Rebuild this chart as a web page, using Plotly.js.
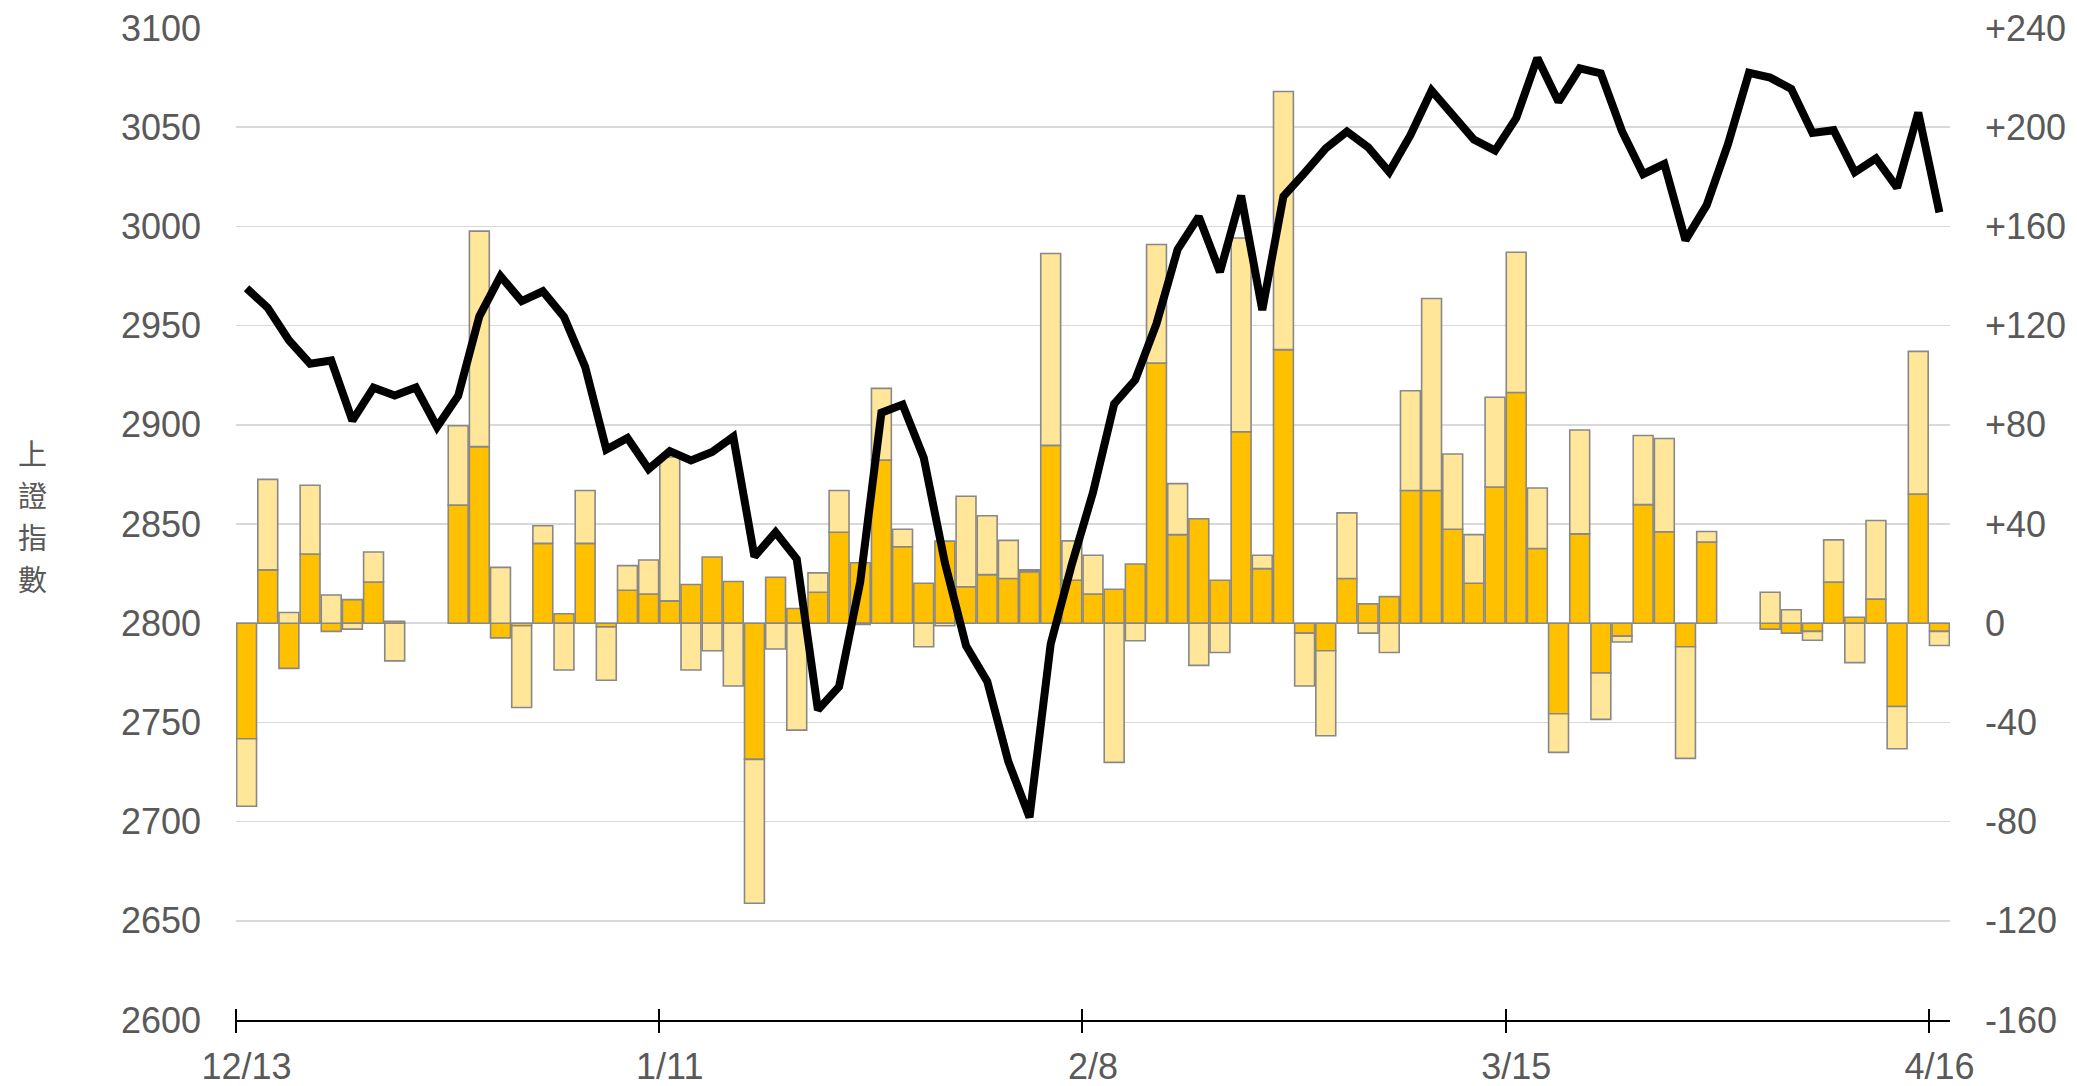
<!DOCTYPE html>
<html>
<head>
<meta charset="utf-8">
<script src="https://cdn.plot.ly/plotly-3.0.1.min.js"></script>
<style>
html,body{margin:0;padding:0;background:#fff;}
#chart{width:2077px;height:1086px;}
</style>
</head>
<body>
<div id="chart"></div>
<script>
// ---- data ----
var dates = ["12/13","12/14","12/15","12/18","12/19","12/20","12/21","12/22","12/25","12/26","12/27","12/28","12/29",
"1/2","1/3","1/4","1/5","1/8","1/9","1/10","1/11","1/12","1/15","1/16","1/17","1/18","1/19","1/22","1/23","1/24","1/25","1/26","1/29","1/30","1/31",
"2/1","2/2","2/5","2/6","2/7","2/8","2/19","2/20","2/21","2/22","2/23","2/26","2/27","2/28","2/29",
"3/1","3/4","3/5","3/6","3/7","3/8","3/11","3/12","3/13","3/14","3/15","3/18","3/19","3/20","3/21","3/22","3/25","3/26","3/27","3/28","3/29",
"4/1","4/2","4/3","4/8","4/9","4/10","4/11","4/12","4/15","4/16"];

var sseIndex = [2968.8,2959.0,2942.6,2930.8,2932.4,2902.1,2918.7,2914.8,2918.8,2898.9,2914.6,2954.7,2974.9,
2962.3,2967.3,2954.4,2929.2,2887.5,2893.3,2877.7,2886.7,2882.0,2886.3,2894.0,2833.6,2845.8,2832.3,2756.3,2768.0,2820.8,2906.1,2910.2,2883.4,2830.5,2788.6,
2770.7,2730.2,2702.2,2789.5,2829.7,2865.9,2910.5,2922.7,2951.0,2988.4,3004.9,2977.0,3015.5,2957.9,3015.2,
3027.0,3039.3,3047.8,3039.9,3027.4,3046.0,3068.5,3055.9,3043.8,3038.2,3054.6,3084.9,3062.8,3079.7,3077.1,3048.0,3026.3,3031.5,2993.1,3010.7,3041.2,
3077.4,3075.0,3069.3,3047.1,3048.5,3027.3,3034.3,3019.5,3057.4,3007.1];

var flowDark = [-46.6,21.5,-18.2,27.9,-3.3,9.5,16.6,0.8,null,null,47.6,71.2,-5.9,
-1,32.2,3.8,32.2,-1.5,13.3,11.8,9,15.6,26.7,16.8,-54.9,18.5,5.9,12.5,36.7,24.4,65.8,30.8,16.1,33.1,14.7,
19.6,18,20.8,71.7,17.3,11.8,13.7,23.9,104.9,35.7,42.1,17.3,77.2,22,110.3,
-4,-11.1,18,7.8,10.7,53.5,53.5,37.9,16.1,54.9,93,30.1,-36.5,36,-20.1,-5.2,47.8,36.9,-9.5,32.7,null,
null,-2.4,-4,-3.3,16.6,2.4,9.7,-33.6,52.1,-3.3];

var flowLight = [-27.2,36.5,4.3,27.7,11.4,-2.4,12.1,-15.2,null,null,32,86.9,22.5,
-33,7.1,-18.9,21.3,-21.5,9.9,13.7,58,-18.9,-11.1,-25.3,-58,-10.4,-43.1,7.8,16.8,-0.5,28.9,7.1,-9.5,-1,36.5,
23.7,15.4,0.7,77.4,15.9,15.6,-56.1,-7.1,47.8,20.6,-17,-11.8,78.1,5.4,104.1,
-21.3,-34.3,26.5,-4,-11.8,40.2,77.4,30.3,19.6,36.2,56.6,24.4,-15.6,41.9,-18.7,-2.4,27.9,37.6,-45,4.3,null,
null,12.5,5.4,-3.6,17,-15.9,31.7,-17,57.5,-5.7];

var labelIdx = [0,20,40,60,80];
var leftTicks = [2600,2650,2700,2750,2800,2850,2900,2950,3000,3050,3100];
var rightTicks = [-160,-120,-80,-40,0,40,80,120,160,200,240];
var rightTickText = ["-160","-120","-80","-40","0","+40","+80","+120","+160","+200","+240"];
var yTitle = "上證指數";

// ---- layout constants ----
var W = 2077, H = 1086;
var M = {l:236, r:127, t:28, b:66};
var plotH = H - M.t - M.b;
var FONT = "Liberation Sans, Arial, Helvetica, sans-serif";
var TXT = "#595959";
var TICKLEN = 12;
var xIdx = dates.map(function(d, i){ return i; });

var traces = [
  {type:"bar", x:dates, y:flowDark, yaxis:"y", xaxis:"x",
   marker:{color:"#FFC000", line:{color:"#888888", width:1.6}}},
  {type:"bar", x:dates, y:flowLight, yaxis:"y", xaxis:"x",
   marker:{color:"#FFE699", line:{color:"#888888", width:1.6}}},
  {type:"scatter", mode:"lines", x:xIdx, y:sseIndex, xaxis:"x2", yaxis:"y2",
   line:{color:"#000000", width:8}}
];

var tickBounds = labelIdx.map(function(i){return i - 0.5;});

var annotations = [];
var chars = Array.from(yTitle);
var centerY = 515, step = 42;
chars.forEach(function(c, k){
  var py = centerY + (k - (chars.length-1)/2) * step;
  annotations.push({
    text:c, xref:"paper", yref:"paper",
    x:(32 - M.l)/(W - M.l - M.r), y:(H - M.b - py)/plotH,
    xanchor:"center", yanchor:"middle", showarrow:false,
    font:{family:"Noto Sans CJK TC, sans-serif", size:29, color:TXT}
  });
});

var layout = {
  width:W, height:H,
  margin:M,
  paper_bgcolor:"#ffffff", plot_bgcolor:"#ffffff",
  barmode:"relative", bargap:0.06,
  showlegend:false,
  font:{family:FONT, size:36, color:TXT},
  xaxis:{
    type:"category", categoryorder:"array", categoryarray:dates,
    range:[-0.5, dates.length-0.5],
    tickvals:labelIdx.map(function(i){return dates[i];}),
    ticktext:labelIdx.map(function(i){return dates[i];}),
    ticks:"", tickangle:0,
    showgrid:false, zeroline:false,
    showline:true, linecolor:"#000000", linewidth:2,
    tickfont:{family:FONT, size:36, color:TXT},
    ticklabelstandoff:14,
    anchor:"y"
  },
  xaxis2:{
    type:"linear", overlaying:"x", anchor:"free", side:"bottom",
    position: TICKLEN/plotH,
    range:[-0.5, dates.length-0.5],
    tickvals:tickBounds, ticks:"outside", ticklen:2*TICKLEN, tickwidth:2, tickcolor:"#000000",
    showticklabels:false,
    showgrid:false, zeroline:false, showline:false
  },
  yaxis:{
    side:"right", range:[-160, 240],
    tickvals:rightTicks, ticktext:rightTickText,
    showgrid:true, gridcolor:"#d9d9d9", gridwidth:1.5,
    zeroline:false, showline:false, ticks:"",
    tickfont:{family:FONT, size:36, color:TXT},
    ticklabelstandoff:34
  },
  yaxis2:{
    overlaying:"y", side:"left", range:[2600, 3100],
    tickvals:leftTicks,
    showgrid:false, zeroline:false, showline:false, ticks:"",
    tickfont:{family:FONT, size:36, color:TXT},
    ticklabelstandoff:34
  },
  annotations:annotations
};

Plotly.newPlot("chart", traces, layout, {staticPlot:true, displayModeBar:false});
</script>
</body>
</html>
